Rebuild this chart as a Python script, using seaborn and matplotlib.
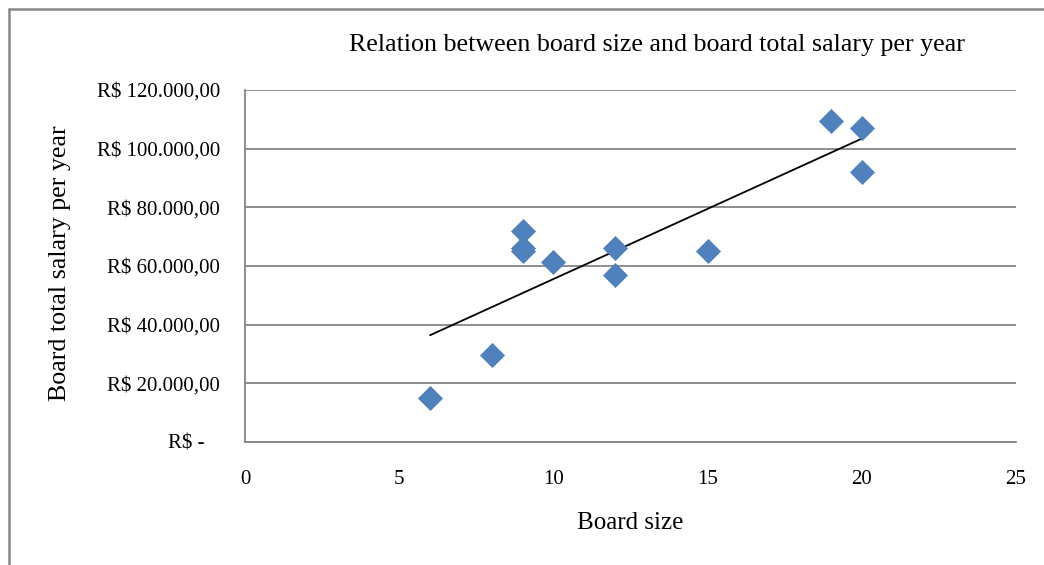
import matplotlib
matplotlib.use("Agg")
import matplotlib.pyplot as plt
import matplotlib.ticker as mticker
from matplotlib.lines import Line2D
import seaborn as sns
import pandas as pd

# Board size vs. total yearly board salary
board_size = [6, 8, 9, 9, 9, 10, 12, 12, 15, 19, 20, 20]
total_salary = [15000, 29500, 72000, 66000, 65000, 61500, 66000, 57000,
                65000, 109500, 107000, 92000]
x_ticks = [0, 5, 10, 15, 20, 25]
y_ticks = [0, 20000, 40000, 60000, 80000, 100000, 120000]

df = pd.DataFrame({"size": board_size, "salary": total_salary})

sns.set_theme(style="white")
plt.rcParams["font.family"] = ["Liberation Serif", "DejaVu Serif"]
plt.rcParams["text.color"] = "black"

fig = plt.figure(figsize=(10.44, 5.65), dpi=100)
ax = fig.add_axes([0.2347, 0.2177, 0.9732 - 0.2347, 0.8407 - 0.2177])

sns.scatterplot(data=df, x="size", y="salary", marker="D", s=150,
                color="#4F81BD", edgecolor="#4A7EBB", linewidth=0.5,
                ax=ax, zorder=3, legend=False)
sns.regplot(data=df, x="size", y="salary", scatter=False, ci=None,
            truncate=True, color="black", line_kws={"linewidth": 1.3},
            ax=ax)

ax.set_xlim(0, 25)
ax.set_ylim(0, 120000)
ax.set_xticks(x_ticks)
ax.set_yticks(y_ticks)


def brl(v, pos=None):
    if v == 0:
        return "R$ -   "
    s = f"{v:,.2f}".replace(",", "X").replace(".", ",").replace("X", ".")
    return f"R$ {s}"


ax.yaxis.set_major_formatter(mticker.FuncFormatter(brl))
ax.tick_params(axis="y", length=0, pad=18, labelsize=15, colors="black")
ax.tick_params(axis="x", length=0, pad=20, labelsize=15, colors="black")

ax.yaxis.grid(True, color="#868686", linewidth=1.3)
ax.xaxis.grid(False)
for side in ("top", "right"):
    ax.spines[side].set_visible(False)
for side in ("left", "bottom"):
    ax.spines[side].set_color("#868686")
    ax.spines[side].set_linewidth(1.3)
ax.set_xlabel("")
ax.set_ylabel("")

fig.text(0.629, 0.920, "Relation between board size and board total salary per year",
         ha="center", va="center", fontsize=18.7, color="black")
fig.text(0.0575, 0.535, "Board total salary per year", rotation=90,
         ha="center", va="center", fontsize=18.7, color="black")
fig.text(0.6035, 0.0743, "Board size", ha="center", va="center",
         fontsize=18, color="black")

# chart-area frame (top and left edges)
fig.add_artist(Line2D([9 / 1044, 1.0], [1 - 9 / 565, 1 - 9 / 565],
                      transform=fig.transFigure, color="#868686", linewidth=1.8))
fig.add_artist(Line2D([9 / 1044, 9 / 1044], [0.0, 1 - 9 / 565],
                      transform=fig.transFigure, color="#868686", linewidth=1.8))

fig.savefig("out.png", dpi=100, facecolor="white")
